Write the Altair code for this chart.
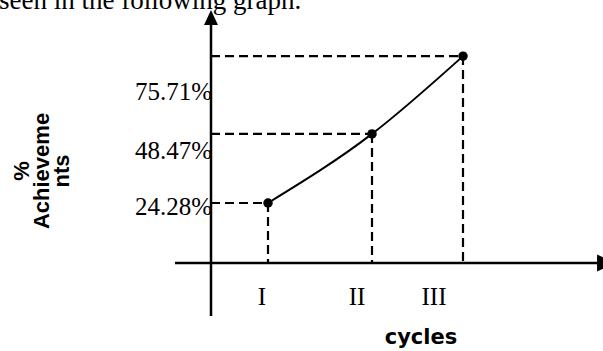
import altair as alt
import pandas as pd

# ---- data ----
cycles = ["I", "II", "III"]
cycle_pos = [0.57, 1.61, 2.52]          # horizontal position of each cycle point
achievement = [24.28, 48.47, 75.71]     # % achievements
value_labels = ["24.28%", "48.47%", "75.71%"]
value_label_pos = [20.1, 39.7, 60.3]    # vertical anchor (baseline) of y labels
cycle_label_pos = [0.51, 1.46, 2.23]    # horizontal anchor of cycle labels
y_title_lines = ["%", "Achieveme", "nts"]
x_title = "cycles"
caption = "seen in the following graph."

# ---- layout constants (in scale units) ----
X_DOMAIN = [-2.11, 3.92]
Y_DOMAIN = [-27.54, 95.36]
ORIGIN_X = 0.0
ORIGIN_Y = 3.27
YAXIS_TOP = 88.4
YAXIS_BOTTOM = -15.3
XAXIS_LEFT = -0.36
XAXIS_RIGHT = 3.9
CYCLE_LABEL_Y = -11.6
X_TITLE_POS = (2.10, -25.2)
Y_TITLE_POS = (-1.89, 35.5)
CAPTION_POS = (-2.12, 92.2)
UP_ARROW_POS = (0.0, 89.2)
RIGHT_ARROW_POS = (3.95, 3.27)

xs = alt.Scale(domain=X_DOMAIN, nice=False, zero=False)
ys = alt.Scale(domain=Y_DOMAIN, nice=False, zero=False)


def X(field="x", **kw):
    return alt.X(field, type="quantitative", scale=xs, axis=None, **kw)


def Y(field="y", **kw):
    return alt.Y(field, type="quantitative", scale=ys, axis=None, **kw)


pts = pd.DataFrame({"cycle": cycles, "x": cycle_pos, "y": achievement})

# dashed guide lines
hguides = pd.DataFrame({"x": [ORIGIN_X] * 3, "x2": cycle_pos, "y": achievement})
vguides = pd.DataFrame({"x": cycle_pos, "y": achievement, "y2": [ORIGIN_Y] * 3})

dash_h = alt.Chart(hguides).mark_rule(strokeDash=[9, 5], strokeWidth=2.2, color="black").encode(
    x=X(), x2="x2", y=Y()
)
dash_v = alt.Chart(vguides).mark_rule(strokeDash=[9, 5], strokeWidth=2.2, color="black").encode(
    x=X(), y=Y(), y2="y2"
)

# axes lines
yaxis = alt.Chart(pd.DataFrame({"x": [ORIGIN_X], "y": [YAXIS_BOTTOM], "y2": [YAXIS_TOP]})).mark_rule(
    strokeWidth=2.5, color="black"
).encode(x=X(), y=Y(), y2="y2")
xaxis = alt.Chart(pd.DataFrame({"x": [XAXIS_LEFT], "x2": [XAXIS_RIGHT], "y": [ORIGIN_Y]})).mark_rule(
    strokeWidth=2.5, color="black"
).encode(x=X(), x2="x2", y=Y())

up_arrow = alt.Chart(pd.DataFrame({"x": [UP_ARROW_POS[0]], "y": [UP_ARROW_POS[1]]})).mark_point(
    shape="M-0.93,1L0,-1L0.93,1Z", size=225, filled=True, opacity=1, color="black"
).encode(x=X(), y=Y())
right_arrow = alt.Chart(pd.DataFrame({"x": [RIGHT_ARROW_POS[0]], "y": [RIGHT_ARROW_POS[1]]})).mark_point(
    shape="M-1,-0.95L1,0L-1,0.95Z", size=320, filled=True, opacity=1, color="black"
).encode(x=X(), y=Y())

line = alt.Chart(pts).mark_line(color="black", strokeWidth=2, interpolate="monotone").encode(
    x=X(), y=Y(), order="x:Q"
)
dots = alt.Chart(pts).mark_circle(size=90, color="black", opacity=1).encode(x=X(), y=Y())

ylab = alt.Chart(pd.DataFrame({"t": value_labels, "x": [ORIGIN_X] * 3, "y": value_label_pos})).mark_text(
    font="Liberation Serif", fontSize=25, align="right", baseline="alphabetic", color="black", dx=1
).encode(x=X(), y=Y(), text="t:N")

xlab = alt.Chart(pd.DataFrame({"t": cycles, "x": cycle_label_pos, "y": [CYCLE_LABEL_Y] * 3})).mark_text(
    font="Liberation Serif", fontSize=25, align="center", baseline="alphabetic", color="black"
).encode(x=X(), y=Y(), text="t:N")

xtitle = alt.Chart(pd.DataFrame({"x": [X_TITLE_POS[0]], "y": [X_TITLE_POS[1]]})).mark_text(
    text=x_title, font="DejaVu Sans", fontWeight="bold", fontSize=21, align="center",
    baseline="alphabetic", color="black"
).encode(x=X(), y=Y())

ytitle = alt.Chart(pd.DataFrame({"x": [Y_TITLE_POS[0]], "y": [Y_TITLE_POS[1]]})).mark_text(
    text=y_title_lines, font="Liberation Sans", fontWeight="bold", fontSize=22, lineHeight=20,
    angle=270, align="center", baseline="middle", color="black"
).encode(x=X(), y=Y())

cap = alt.Chart(pd.DataFrame({"x": [CAPTION_POS[0]], "y": [CAPTION_POS[1]]})).mark_text(
    text=caption, font="Liberation Serif", fontSize=27, align="left", baseline="alphabetic",
    color="black"
).encode(x=X(), y=Y())

chart = alt.layer(
    dash_h, dash_v, yaxis, xaxis, up_arrow, right_arrow, line, dots, ylab, xlab, xtitle, ytitle, cap
).properties(
    width=603, height=351, padding=0, autosize=alt.AutoSizeParams(type="none"), background="white"
).configure_view(stroke=None)

chart.save("out.html", embed_options={"renderer": "svg", "actions": False})
